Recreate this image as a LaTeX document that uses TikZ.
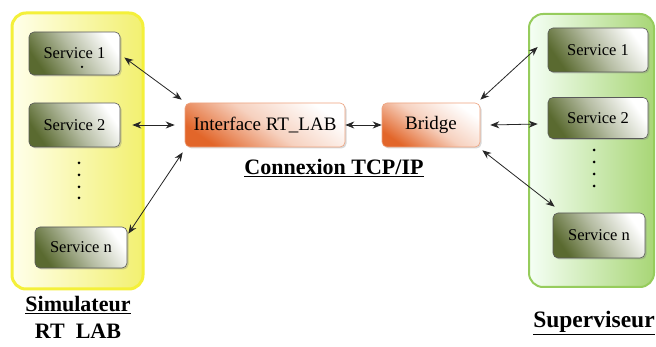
\documentclass[tikz,border=0pt]{standalone}
\usepackage{fontspec}
\setmainfont{Liberation Serif}
\usetikzlibrary{arrows.meta,shadows}
\definecolor{svcdark}{HTML}{5A6A30}
\definecolor{orng}{HTML}{E2662A}
\definecolor{ylwline}{HTML}{F4F03A}
\definecolor{ylwfill}{HTML}{F2F070}
\definecolor{grnline}{HTML}{96CC5C}
\definecolor{grnfill}{HTML}{A8D676}
\tikzset{
  svc/.style={draw=gray!70!black, line width=0.6pt, rounded corners=5pt,
    bottom color=svcdark, top color=white, middle color=white!55!svcdark, shading angle=-55,
    drop shadow={shadow xshift=1.5pt,shadow yshift=-1.5pt,opacity=0.35},
    text=black, font=\fontsize{16.5}{19}\selectfont, inner sep=0pt},
  mid/.style={draw=orng!60!white, line width=0.6pt, rounded corners=5pt,
    bottom color=orng, top color=white, middle color=white!70!orng, shading angle=-35,
    drop shadow={shadow xshift=1.5pt,shadow yshift=-1.5pt,opacity=0.3},
    text=black, font=\fontsize{19}{22}\selectfont, inner sep=0pt},
  ycont/.style={draw=ylwline, line width=3pt, rounded corners=14pt,
    left color=yellow!8, right color=ylwfill},
  gcont/.style={draw=grnline, line width=2pt, rounded corners=14pt,
    left color=green!4!white, right color=grnfill},
  lbl/.style={font=\fontsize{22}{26}\selectfont\bfseries, inner sep=0pt},
  link/.style={{Stealth[length=9pt,width=7pt]}-{Stealth[length=9pt,width=7pt]}, line width=0.8pt, black!85},
  dotm/.style={fill=black, circle, inner sep=0pt, minimum size=3pt}
}
\begin{document}
\begin{tikzpicture}[x=1pt,y=-1pt]
\useasboundingbox[fill=white] (0,0) rectangle (656,347);
% containers
\node[ycont, minimum width=131, minimum height=276] (lc) at (77.5,151) {};
\node[gcont, minimum width=125, minimum height=273] (rc) at (591.5,150.5) {};
% left services
\node[svc, minimum width=91, minimum height=43] (l1) at (74.5,53.5) {Service 1};
\node[dotm, minimum size=2.5pt] (l1dot) at (82,67) {};
\node[svc, minimum width=91, minimum height=44] (l2) at (74.5,125) {Service 2};
\foreach \y [count=\i] in {163,175,187,198} \node[dotm] (ld\i) at (79,\y) {};
\node[svc, minimum width=92, minimum height=41] (ln) at (81,247.5) {Service n};
% right services
\node[svc, minimum width=100, minimum height=44] (r1) at (598,50) {Service 1};
\node[svc, minimum width=100, minimum height=41] (r2) at (598,118) {Service 2};
\foreach \y [count=\i] in {150,162,174,186} \node[dotm] (rd\i) at (594,\y) {};
\node[svc, minimum width=92, minimum height=45] (rn) at (599,235.5) {Service n};
% middle
\node[mid, minimum width=160, minimum height=44] (ifc) at (265,125) {Interface RT\_LAB};
\node[mid, minimum width=98, minimum height=44] (br) at (431,125) {Bridge};
% labels
\node[lbl] (tcp) at (334,168) {\underline{Connexion TCP/IP}};
\node[lbl] (sim) at (78,305) {\underline{Simulateur}};
\node[lbl] (rtl) at (78,331) {RT\ \ LAB};
\node[lbl, font=\fontsize{23.5}{27}\selectfont\bfseries] (sup) at (594,323) {\underline{Superviseur}};
% links
\draw[link] ([xshift=4pt,yshift=-4pt]l1.east) -- ([xshift=-3pt,yshift=3pt]ifc.north west);
\draw[link] ([xshift=12pt]l2.east) -- ([xshift=-10pt]ifc.west);
\draw[link] ([xshift=1pt,yshift=-7pt]ln.north east) -- ([xshift=-2pt,yshift=-5pt]ifc.south west);
\draw[link] (ifc.east) -- (br.west);
\draw[link] ([yshift=3pt]br.north east) -- ([xshift=-10pt,yshift=3pt]r1.west);
\draw[link] ([xshift=10pt]br.east) -- ([xshift=-10pt,yshift=-6pt]r2.west);
\draw[link] ([xshift=2pt,yshift=-3pt]br.south east) -- ([xshift=2pt,yshift=6pt]rn.north west);
\end{tikzpicture}
\end{document}
